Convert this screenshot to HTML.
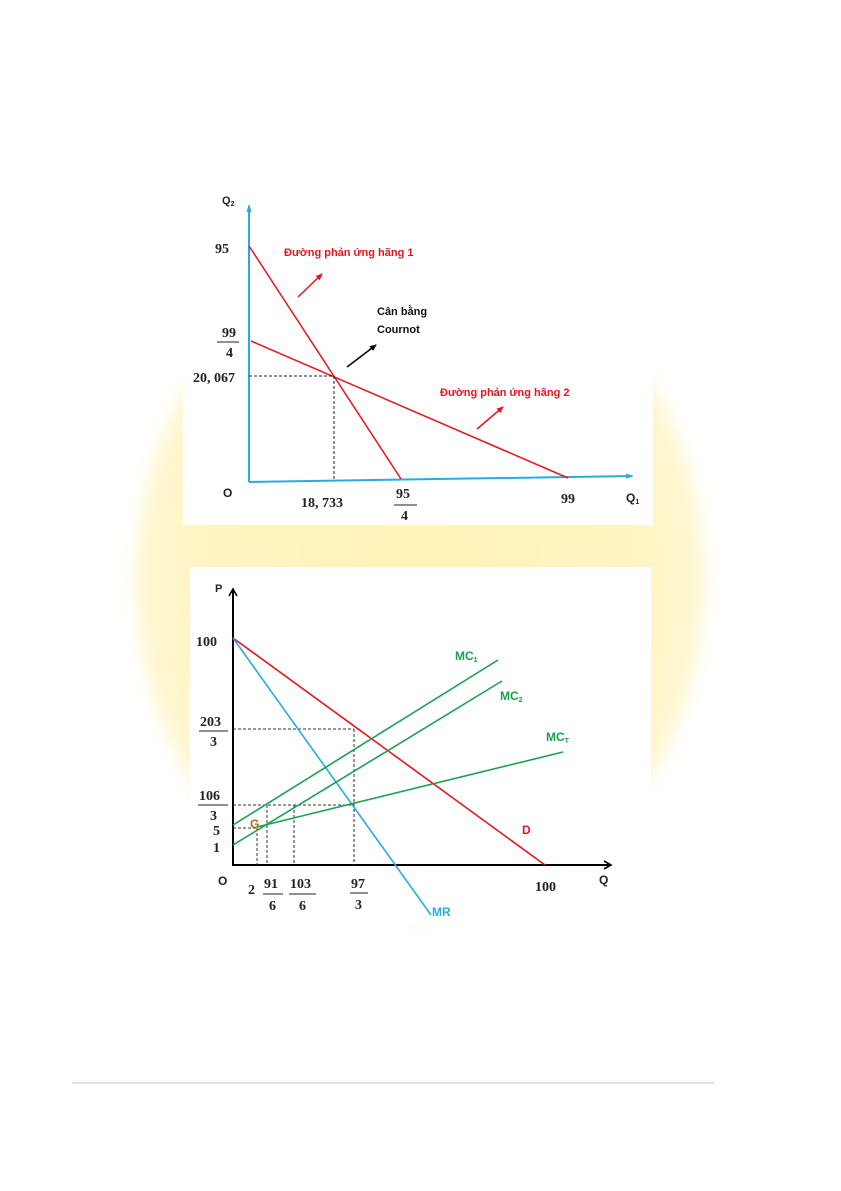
<!DOCTYPE html>
<html><head><meta charset="utf-8"><style>
html,body{margin:0;padding:0;background:#fff}
body{width:841px;height:1191px;position:relative;overflow:hidden;font-family:"Liberation Sans","DejaVu Sans",sans-serif}
.glow{position:absolute;left:135px;top:240px;width:570px;height:680px;border-radius:50%;background:radial-gradient(ellipse at center,#fff3b8 0%,#fff4c2 55%,rgba(255,247,210,0.7) 80%,rgba(255,255,255,0) 100%);filter:blur(8px)}
.box{position:absolute;background:#fff}
svg{position:absolute;left:0;top:0}
.s{font-family:"Liberation Serif",serif;font-weight:bold;font-size:14px;fill:#222}
.a{font-family:"Liberation Sans",sans-serif;font-weight:bold}
</style></head><body>
<div class="glow"></div>
<div class="box" style="left:183px;top:185px;width:470px;height:340px"></div>
<div class="box" style="left:190px;top:567px;width:461px;height:358px"></div>
<svg width="841" height="1191" viewBox="0 0 841 1191">
<defs>
<marker id="ab" markerWidth="8" markerHeight="8" refX="6" refY="4" orient="auto" markerUnits="userSpaceOnUse"><path d="M0,1.5 L8,4 L0,6.5 z" fill="#29abe2"/></marker>
<marker id="ar" markerWidth="8" markerHeight="8" refX="6" refY="4" orient="auto" markerUnits="userSpaceOnUse"><path d="M0,1 L7,4 L0,7 z" fill="#e8141c"/></marker>
<marker id="ak" markerWidth="8" markerHeight="8" refX="6" refY="4" orient="auto" markerUnits="userSpaceOnUse"><path d="M0,1 L7,4 L0,7 z" fill="#000"/></marker>
<marker id="ak2" markerWidth="12" markerHeight="12" refX="9" refY="6" orient="auto" markerUnits="userSpaceOnUse"><path d="M2,2 L9,6 L2,10" fill="none" stroke="#000" stroke-width="1.6"/></marker>
</defs>
<!-- chart 1 -->
<line x1="249" y1="482" x2="249" y2="206" stroke="#29abe2" stroke-width="2" marker-end="url(#ab)"/>
<line x1="249" y1="482" x2="632" y2="476" stroke="#29abe2" stroke-width="2" marker-end="url(#ab)"/>
<line x1="249" y1="246" x2="401" y2="479" stroke="#e8141c" stroke-width="1.5"/>
<line x1="251" y1="341" x2="568" y2="478" stroke="#e8141c" stroke-width="1.5"/>
<line x1="249" y1="376" x2="333" y2="376" stroke="#222" stroke-dasharray="3,2"/>
<line x1="334" y1="376" x2="334" y2="481" stroke="#222" stroke-dasharray="3,2"/>
<line x1="298" y1="297" x2="322" y2="274" stroke="#e8141c" stroke-width="1.5" marker-end="url(#ar)"/>
<line x1="347" y1="367" x2="376" y2="345" stroke="#000" stroke-width="1.5" marker-end="url(#ak)"/>
<line x1="477" y1="429" x2="503" y2="407" stroke="#e8141c" stroke-width="1.5" marker-end="url(#ar)"/>
<text class="a" x="222" y="204" font-size="11" fill="#222">Q<tspan font-size="7" dy="2">2</tspan></text>
<text class="s" x="215" y="253">95</text>
<text class="s" x="222" y="337">99</text><line x1="217" y1="342" x2="239" y2="342" stroke="#222"/><text class="s" x="226" y="357">4</text>
<text class="s" x="193" y="382">20, 067</text>
<text class="a" x="223" y="497" font-size="12" fill="#222">O</text>
<text class="s" x="301" y="507">18, 733</text>
<text class="s" x="396" y="498">95</text><line x1="394" y1="505" x2="417" y2="505" stroke="#222"/><text class="s" x="401" y="520">4</text>
<text class="s" x="561" y="503">99</text>
<text class="a" x="626" y="502" font-size="12" fill="#222">Q<tspan font-size="7" dy="2">1</tspan></text>
<text class="a" x="284" y="256" font-size="11" fill="#e8141c">Đường phản ứng hãng 1</text>
<text class="a" x="377" y="315" font-size="11" fill="#111">Cân bằng</text>
<text class="a" x="377" y="333" font-size="11" fill="#111">Cournot</text>
<text class="a" x="440" y="396" font-size="11" fill="#e8141c">Đường phản ứng hãng 2</text>
<!-- chart 2 -->
<line x1="233" y1="866" x2="233" y2="589" stroke="#000" stroke-width="2" marker-end="url(#ak2)"/>
<line x1="233" y1="865" x2="611" y2="865" stroke="#000" stroke-width="2" marker-end="url(#ak2)"/>
<g stroke="#333" stroke-dasharray="3,2">
<line x1="233" y1="729" x2="354" y2="729"/>
<line x1="354" y1="729" x2="354" y2="865"/>
<line x1="233" y1="805" x2="354" y2="805"/>
<line x1="267" y1="805" x2="267" y2="865"/>
<line x1="294" y1="805" x2="294" y2="865"/>
<line x1="233" y1="828" x2="257" y2="828"/>
<line x1="257" y1="828" x2="257" y2="865"/>
</g>
<line x1="233" y1="638" x2="545" y2="865" stroke="#e8141c" stroke-width="1.6"/>
<line x1="233" y1="638" x2="431" y2="915" stroke="#29abe2" stroke-width="1.6"/>
<line x1="233" y1="825" x2="498" y2="660" stroke="#1aa050" stroke-width="1.6"/>
<line x1="233" y1="845" x2="502" y2="681" stroke="#1aa050" stroke-width="1.6"/>
<line x1="257" y1="827" x2="563" y2="752" stroke="#1aa050" stroke-width="1.6"/>
<text class="a" x="215" y="592" font-size="11" fill="#222">P</text>
<text class="s" x="196" y="646">100</text>
<text class="s" x="200" y="726">203</text><line x1="199" y1="731" x2="228" y2="731" stroke="#222"/><text class="s" x="210" y="746">3</text>
<text class="s" x="199" y="800">106</text><line x1="198" y1="805" x2="228" y2="805" stroke="#222"/><text class="s" x="210" y="820">3</text>
<text class="s" x="213" y="835">5</text>
<text class="s" x="213" y="852">1</text>
<text class="a" x="218" y="885" font-size="12" fill="#222">O</text>
<text class="s" x="248" y="894">2</text>
<text class="s" x="264" y="888">91</text><line x1="263" y1="894" x2="283" y2="894" stroke="#222"/><text class="s" x="269" y="910">6</text>
<text class="s" x="290" y="888">103</text><line x1="289" y1="894" x2="316" y2="894" stroke="#222"/><text class="s" x="299" y="910">6</text>
<text class="s" x="351" y="888">97</text><line x1="350" y1="893" x2="368" y2="893" stroke="#222"/><text class="s" x="355" y="909">3</text>
<text class="s" x="535" y="891">100</text>
<text class="a" x="599" y="884" font-size="12" fill="#222">Q</text>
<g class="a" font-size="12">
<text x="455" y="660" fill="#1aa050">MC<tspan font-size="7" dy="2">1</tspan></text>
<text x="500" y="700" fill="#1aa050">MC<tspan font-size="7" dy="2">2</tspan></text>
<text x="546" y="741" fill="#1aa050">MC<tspan font-size="7" dy="2">T</tspan></text>
<text x="522" y="834" fill="#e8141c">D</text>
<text x="432" y="916" fill="#29abe2">MR</text>
<text x="250" y="828" fill="#b5651d">G</text>
</g>
<line x1="72" y1="1083" x2="714" y2="1083" stroke="#c8c8c8" stroke-width="1"/>
</svg>
</body></html>
